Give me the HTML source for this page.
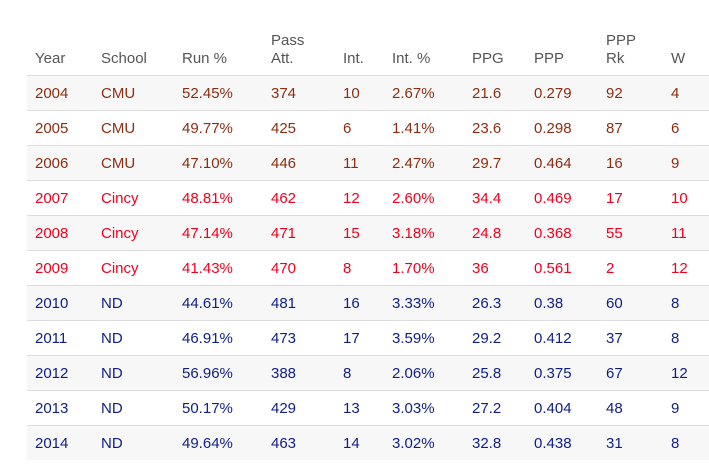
<!DOCTYPE html>
<html><head><style>
body{margin:0;background:#fff;width:709px;height:474px;overflow:hidden;font-family:"Liberation Sans",sans-serif;font-size:15px;}
.t{position:absolute;left:27px;top:0;width:682px;}
.h{position:absolute;color:#555;font-size:15px;line-height:18px;}
.r{position:absolute;left:0;width:682px;height:34px;border-top:1px solid #ddd;}
.r.g{background:#f7f7f7;}
.r span{position:absolute;top:9px;line-height:18px;}
.c{color:#8b2e12}.x{color:#f0001c}.n{color:#0f1e86}
</style></head><body>
<div class="t">
<div class="h" style="left:8px;top:50px">Year</div>
<div class="h" style="left:74px;top:50px">School</div>
<div class="h" style="left:155px;top:50px">Run %</div>
<div class="h" style="left:244px;top:32px">Pass<br>Att.</div>
<div class="h" style="left:316px;top:50px">Int.</div>
<div class="h" style="left:365px;top:50px">Int. %</div>
<div class="h" style="left:445px;top:50px">PPG</div>
<div class="h" style="left:507px;top:50px">PPP</div>
<div class="h" style="left:579px;top:32px">PPP<br>Rk</div>
<div class="h" style="left:644px;top:50px">W</div>
<div id="rows"></div>
</div>
<script>
var d=[["2004","CMU","52.45%","374","10","2.67%","21.6","0.279","92","4","c"],
["2005","CMU","49.77%","425","6","1.41%","23.6","0.298","87","6","c"],
["2006","CMU","47.10%","446","11","2.47%","29.7","0.464","16","9","c"],
["2007","Cincy","48.81%","462","12","2.60%","34.4","0.469","17","10","x"],
["2008","Cincy","47.14%","471","15","3.18%","24.8","0.368","55","11","x"],
["2009","Cincy","41.43%","470","8","1.70%","36","0.561","2","12","x"],
["2010","ND","44.61%","481","16","3.33%","26.3","0.38","60","8","n"],
["2011","ND","46.91%","473","17","3.59%","29.2","0.412","37","8","n"],
["2012","ND","56.96%","388","8","2.06%","25.8","0.375","67","12","n"],
["2013","ND","50.17%","429","13","3.03%","27.2","0.404","48","9","n"],
["2014","ND","49.64%","463","14","3.02%","32.8","0.438","31","8","n"]];
var xs=[8,74,155,244,316,365,445,507,579,644],h="";
d.forEach(function(r,i){h+='<div class="r '+(i%2==0?'g ':'')+r[10]+'" style="top:'+(75+i*35)+'px">';
for(var j=0;j<10;j++)h+='<span style="left:'+xs[j]+'px">'+r[j]+'</span>';h+='</div>';});
document.getElementById('rows').innerHTML=h;
</script>
</body></html>
